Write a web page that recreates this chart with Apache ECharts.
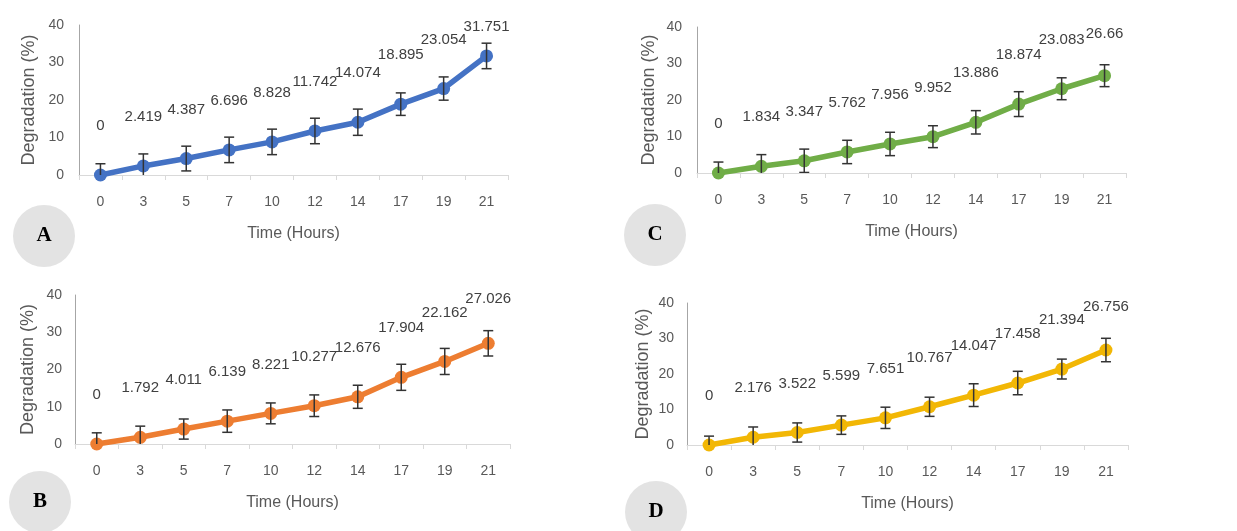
<!DOCTYPE html>
<html>
<head>
<meta charset="utf-8">
<script src="https://cdn.jsdelivr.net/npm/echarts@6/dist/echarts.min.js"></script>
<style>
html,body{margin:0;padding:0;background:#fff;}
#chart{width:1237px;height:531px;}
</style>
</head>
<body>
<div id="chart"></div>
<script>
const categories = ['0','3','5','7','10','12','14','17','19','21'];
const yTickValues = [0, 10, 20, 30, 40];

const valuesA = [0, 2.419, 4.387, 6.696, 8.828, 11.742, 14.074, 18.895, 23.054, 31.751];
const valuesB = [0, 1.792, 4.011, 6.139, 8.221, 10.277, 12.676, 17.904, 22.162, 27.026];
const valuesC = [0, 1.834, 3.347, 5.762, 7.956, 9.952, 13.886, 18.874, 23.083, 26.66];
const valuesD = [0, 2.176, 3.522, 5.599, 7.651, 10.767, 14.047, 17.458, 21.394, 26.756];

const errorsA = [3.0, 3.2, 3.3, 3.4, 3.4, 3.4, 3.5, 3.0, 3.1, 3.4];
const errorsB = [3.0, 3.0, 2.7, 3.0, 2.8, 2.9, 3.1, 3.5, 3.5, 3.4];
const errorsC = [3.0, 3.2, 3.2, 3.2, 3.2, 3.0, 3.2, 3.4, 3.0, 3.0];
const errorsD = [2.5, 2.9, 2.7, 2.6, 3.0, 2.7, 3.2, 3.3, 2.8, 3.3];

const panelLetters = ['A', 'B', 'C', 'D'];

const xAxisName = 'Time (Hours)';
const yAxisName = 'Degradation (%)';

// layout / style (not data)
const panels = [
  {values: valuesA, errors: errorsA, color: '#4472C4', grid: {left: 79, top: 25, width: 429, height: 150}, yNameGap: 41, yLabelMargin: 15, lastLabelDist: 15, circle: [44, 236]},
  {values: valuesB, errors: errorsB, color: '#ED7D31', grid: {left: 75, top: 295, width: 435, height: 149}, yNameGap: 38, yLabelMargin: 13, lastLabelDist: 30, circle: [40, 502]},
  {values: valuesC, errors: errorsC, color: '#70AD47', grid: {left: 697, top: 27, width: 429, height: 146}, yNameGap: 39, yLabelMargin: 15, lastLabelDist: 28, circle: [655, 235]},
  {values: valuesD, errors: errorsD, color: '#F2B705', grid: {left: 687, top: 303, width: 441, height: 142}, yNameGap: 35, yLabelMargin: 13, lastLabelDist: 29, circle: [656, 512]}
];

const FONT = 'Liberation Sans';
const TXT = '#595959';

const chart = echarts.init(document.getElementById('chart'), null, {renderer: 'canvas'});

const grids = [], xAxes = [], yAxes = [], series = [], graphics = [];

panels.forEach((p, i) => {
  grids.push(Object.assign({containLabel: false}, p.grid));
  xAxes.push({
    type: 'category', gridIndex: i, data: categories, boundaryGap: true,
    name: xAxisName, nameLocation: 'middle', nameGap: 51,
    nameTextStyle: {fontFamily: FONT, fontSize: 16, color: TXT},
    axisLine: {show: true, lineStyle: {color: '#d9d9d9', width: 1}},
    axisTick: {show: true, length: 5, lineStyle: {color: '#d9d9d9'}},
    axisLabel: {fontFamily: FONT, fontSize: 14, color: TXT, margin: 20},
    splitLine: {show: false}
  });
  yAxes.push({
    type: 'value', gridIndex: i, min: yTickValues[0], max: yTickValues[yTickValues.length - 1], interval: yTickValues[1] - yTickValues[0],
    name: yAxisName, nameLocation: 'middle', nameGap: p.yNameGap,
    nameTextStyle: {fontFamily: FONT, fontSize: 18, color: TXT},
    axisLine: {show: true, lineStyle: {color: '#a6a6a6', width: 1}},
    axisTick: {show: false},
    axisLabel: {fontFamily: FONT, fontSize: 14, color: TXT, margin: p.yLabelMargin},
    splitLine: {show: false}
  });
  const last = p.values.length - 1;
  series.push({
    type: 'line', xAxisIndex: i, yAxisIndex: i,
    data: p.values.map((v, k) => k === last ? {value: v, label: {distance: p.lastLabelDist}} : v),
    symbol: 'circle', symbolSize: 13,
    lineStyle: {color: p.color, width: 5.5},
    itemStyle: {color: p.color},
    label: {show: true, position: 'top', distance: 35, fontFamily: FONT, fontSize: 15, color: '#404040',
      formatter: (prm) => String(prm.value)},
    z: 3, animation: false
  });
  series.push({
    type: 'custom', xAxisIndex: i, yAxisIndex: i,
    data: p.values.map((v, k) => [k, v, p.errors[k]]),
    clip: true,
    renderItem: (params, api) => {
      const x = api.value(0), y = api.value(1), e = api.value(2);
      const top = api.coord([x, y + e]);
      const bot = api.coord([x, y - e]);
      const hw = 5;
      const st = {stroke: '#333', lineWidth: 1.5};
      return {type: 'group', children: [
        {type: 'line', shape: {x1: top[0], y1: top[1], x2: bot[0], y2: bot[1]}, style: st},
        {type: 'line', shape: {x1: top[0] - hw, y1: top[1], x2: top[0] + hw, y2: top[1]}, style: st},
        {type: 'line', shape: {x1: bot[0] - hw, y1: bot[1], x2: bot[0] + hw, y2: bot[1]}, style: st}
      ]};
    },
    z: 4, animation: false
  });
  graphics.push({
    type: 'circle', shape: {cx: p.circle[0], cy: p.circle[1], r: 31},
    style: {fill: '#e3e3e3'}, z: 1
  });
  graphics.push({
    type: 'text', x: p.circle[0], y: p.circle[1],
    style: {text: panelLetters[i], fontFamily: 'Liberation Serif', fontWeight: 'bold', fontSize: 21, fill: '#000', textAlign: 'center', textVerticalAlign: 'middle'},
    z: 2
  });
});

chart.setOption({
  backgroundColor: '#ffffff',
  animation: false,
  grid: grids, xAxis: xAxes, yAxis: yAxes, series: series,
  graphic: graphics
});
</script>
</body>
</html>
